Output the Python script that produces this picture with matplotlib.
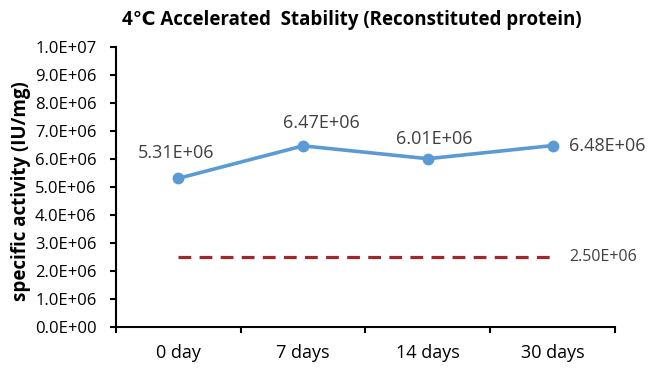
import numpy as np
import matplotlib.pyplot as plt
from matplotlib.ticker import FuncFormatter

# data
days = ["0 day", "7 days", "14 days", "30 days"]
activity = [5.31e6, 6.47e6, 6.01e6, 6.48e6]
spec_limit = [2.5e6, 2.5e6, 2.5e6, 2.5e6]
yticks = np.arange(0, 1.0e7 + 1, 1.0e6)

plt.rcParams['font.family'] = ['Open Sans', 'DejaVu Sans']

fig = plt.figure(figsize=(6.5, 3.68), dpi=100)
ax = fig.add_axes([0.1785, 0.1114, 0.7675, 0.7609])

x = np.arange(len(days))
ax.plot(x, activity, color='#5B9BD5', lw=2.6, marker='o', ms=7.5, zorder=3)
ax.plot(x, spec_limit, color='#A0282C', lw=2.3, dashes=(4, 2.6), zorder=2)

# data labels (label offsets in points, as placed in the original)
offsets = [(-1.4, 18), (13, 16.5), (4.3, 14.4), (12, 0)]
for i, v in enumerate(activity):
    lab = "{:.2E}".format(v)
    ha = 'left' if i == len(days) - 1 else 'center'
    ax.annotate(lab, (x[i], v), xytext=offsets[i], textcoords='offset points',
                ha=ha, va='center', fontsize=13, color='#404040',
                annotation_clip=False)
ax.annotate("{:.2E}".format(spec_limit[-1]), (x[-1], spec_limit[-1]),
            xytext=(12, 0), textcoords='offset points', ha='left', va='center',
            fontsize=11.5, color='#404040', annotation_clip=False)

ax.set_xlim(-0.5, len(days) - 0.5)
ax.set_ylim(0, 1.0e7)
ax.set_yticks(yticks)
ax.yaxis.set_major_formatter(FuncFormatter(lambda v, p: "{:.1E}".format(v)))

# category ticks between labels, Excel style
ax.set_xticks(np.arange(-0.5, len(days), 1.0))
ax.set_xticklabels([])
ax.set_xticks(x, minor=True)
ax.set_xticklabels(days, minor=True)
ax.tick_params(axis='x', which='major', direction='out', length=4, width=1.5, color='black')
ax.tick_params(axis='x', which='minor', length=0, pad=12, labelsize=13, labelcolor='black')
ax.tick_params(axis='y', direction='out', length=4, width=1.5, labelsize=12, pad=10)

for s in ['top', 'right']:
    ax.spines[s].set_visible(False)
for s in ['left', 'bottom']:
    ax.spines[s].set_linewidth(1.5)
    ax.spines[s].set_color('black')

fig.text(0.032, 0.481, "specific activity (IU/mg)", rotation=90, ha='center', va='center',
         fontsize=13.5, fontweight='bold')
fig.text(0.541, 0.946, "4℃ Accelerated  Stability (Reconstituted protein)",
         ha='center', va='center', fontsize=13.5, fontweight='bold')

fig.savefig("out.png", dpi=100)
